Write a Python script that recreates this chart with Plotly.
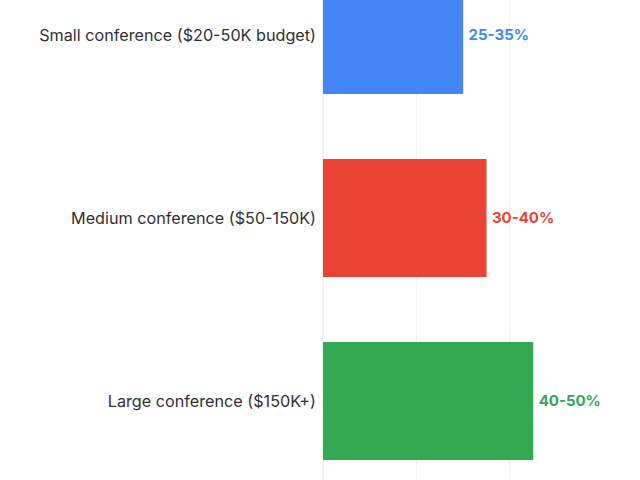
import plotly.graph_objects as go

categories = ["Small conference ($20-50K budget)", "Medium conference ($50-150K)", "Large conference ($150K+)"]
values = [30, 35, 45]
labels = ["25-35%", "30-40%", "40-50%"]
colors = ["#4285F4", "#E94335", "#34A853"]

fig = go.Figure(go.Bar(
    y=categories, x=values, orientation="h",
    marker=dict(color=colors, line=dict(width=0)),
    text=["\u2009" + t for t in labels], textposition="outside", cliponaxis=False,
    textfont=dict(color=colors, size=15, family="Inter", weight="bold"),
))

fig.update_layout(
    width=640, height=480,
    margin=dict(l=323, r=46, t=0, b=0, autoexpand=False),
    paper_bgcolor="white", plot_bgcolor="white",
    bargap=0.355,
    showlegend=False,
    font=dict(family="Inter", size=16.2, color="#2f2f33"),
    xaxis=dict(range=[0, 58], showticklabels=False, showgrid=True, gridcolor="#f2f2f2",
               dtick=20, zeroline=True, zerolinecolor="#f2f2f2", showline=False, fixedrange=True),
    yaxis=dict(categoryorder="array", categoryarray=categories, range=[2.432, -0.191],
               showgrid=False, ticklabelstandoff=6, showline=False, automargin=False),
)

fig.write_html("out.html", config={"displayModeBar": False},
               post_script="document.body.style.margin='0px';")
